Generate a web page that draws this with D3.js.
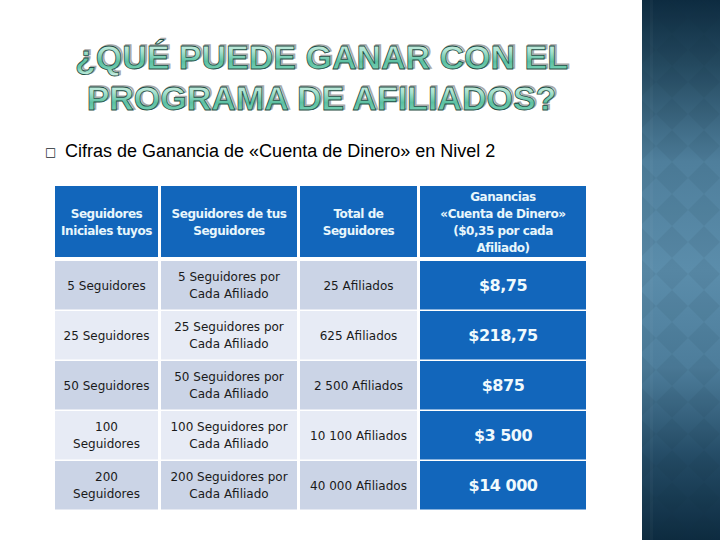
<!DOCTYPE html>
<html>
<head>
<meta charset="utf-8">
<script src="https://cdn.jsdelivr.net/npm/d3@7"></script>
<style>
html, body { margin: 0; padding: 0; background: #fff; }
svg { display: block; }
</style>
</head>
<body>
<div id="chart"></div>
<script>
var titleLines = ["¿QUÉ PUEDE GANAR CON EL", "PROGRAMA DE AFILIADOS?"];
var subtitle = "Cifras de Ganancia de «Cuenta de Dinero» en Nivel 2";

var headers = [
  ["Seguidores", "Iniciales tuyos"],
  ["Seguidores de tus", "Seguidores"],
  ["Total de", "Seguidores"],
  ["Ganancias", "«Cuenta de Dinero»", "($0,35 por cada", "Afiliado)"]
];
var initialFollowers = [["5 Seguidores"], ["25 Seguidores"], ["50 Seguidores"], ["100", "Seguidores"], ["200", "Seguidores"]];
var followersOfFollowers = [
  ["5 Seguidores por", "Cada Afiliado"],
  ["25 Seguidores por", "Cada Afiliado"],
  ["50 Seguidores por", "Cada Afiliado"],
  ["100 Seguidores por", "Cada Afiliado"],
  ["200 Seguidores por", "Cada Afiliado"]
];
var totalAffiliates = ["25 Afiliados", "625 Afiliados", "2 500 Afiliados", "10 100 Afiliados", "40 000 Afiliados"];
var earnings = ["$8,75", "$218,75", "$875", "$3 500", "$14 000"];

var width = 720, height = 540;
var colEdges = [55, 161, 300, 420, 589];
var rowTop = 261, rowStep = 50, rowH = 48.5;

var svg = d3.select("#chart").append("svg")
  .attr("width", width)
  .attr("height", height);
var defs = svg.append("defs");

// side panel
var panelGrad = defs.append("linearGradient").attr("id", "panel")
  .attr("x1", 0).attr("y1", 0).attr("x2", 0).attr("y2", 1);
[[0, "#0d2b40"], [0.12, "#24495f"], [0.3, "#4f7f9c"], [0.5, "#5b8dab"], [0.68, "#4d7d9b"], [0.85, "#234a64"], [1, "#0d2b40"]]
  .forEach(function(s) { panelGrad.append("stop").attr("offset", s[0]).attr("stop-color", s[1]); });

var diamonds = defs.append("pattern").attr("id", "diamonds")
  .attr("patternUnits", "userSpaceOnUse")
  .attr("x", 656).attr("y", 2)
  .attr("width", 32).attr("height", 32);
diamonds.append("path").attr("d", "M16 0L32 16L16 32L0 16Z").attr("fill", "#0d2b40").attr("fill-opacity", 0.07);

svg.append("rect").attr("x", 642).attr("y", 0).attr("width", 78).attr("height", height).attr("fill", "url(#panel)");
svg.append("rect").attr("x", 642).attr("y", 0).attr("width", 78).attr("height", height).attr("fill", "url(#diamonds)");
svg.append("rect").attr("x", 650).attr("y", 0).attr("width", 3).attr("height", height).attr("fill", "#fff").attr("fill-opacity", 0.03);

// title
var titleGrad = defs.append("linearGradient").attr("id", "titleFill")
  .attr("x1", 0).attr("y1", 0).attr("x2", 0).attr("y2", 1);
[[0, "#e4f7f0"], [0.35, "#a8e2cf"], [0.62, "#5cc0a2"], [0.78, "#6fcbae"], [1, "#d5f3e8"]]
  .forEach(function(s) { titleGrad.append("stop").attr("offset", s[0]).attr("stop-color", s[1]); });

function drawTitle(line, y) {
  var g = svg.append("g").attr("font-family", "Liberation Sans").attr("font-weight", "bold")
    .attr("font-size", 34).attr("text-anchor", "middle");
  g.append("text").attr("x", 323).attr("y", y - 1.5).text(line)
    .attr("fill", "none").attr("stroke", "#a8a8a8").attr("stroke-width", 1.6);
  g.append("text").attr("x", 321.5).attr("y", y).text(line)
    .attr("fill", "url(#titleFill)").attr("stroke", "#1f4f45").attr("stroke-width", 0.8);
}
drawTitle(titleLines[0], 69);
drawTitle(titleLines[1], 110);

// bullet + subtitle
svg.append("text").attr("x", 45).attr("y", 156).attr("font-family", "DejaVu Sans").attr("font-size", 12).attr("fill", "#1a2a30").text("□");
svg.append("text").attr("x", 65).attr("y", 157).attr("font-family", "Liberation Sans").attr("font-size", 18).attr("fill", "#000").text(subtitle);

// table
var colors = { head: "#1266bb", odd: "#cbd4e6", even: "#e7ebf5" };

function cellText(x, cy, lines, opts) {
  var lh = opts.lh || 17;
  var t = svg.append("text").attr("text-anchor", "middle")
    .attr("font-family", "DejaVu Sans")
    .attr("font-size", opts.size)
    .attr("font-weight", opts.weight || "normal")
    .attr("letter-spacing", opts.spacing || 0)
    .attr("fill", opts.fill);
  lines.forEach(function(l, i) {
    t.append("tspan").attr("x", x)
      .attr("y", cy + (i - (lines.length - 1) / 2) * lh + opts.size * 0.36)
      .text(l);
  });
}

var columns = d3.range(4);
var colMid = function(c) { return (colEdges[c] + colEdges[c + 1] - 3) / 2; };

columns.forEach(function(c) {
  svg.append("rect").attr("x", colEdges[c]).attr("y", 186)
    .attr("width", colEdges[c + 1] - colEdges[c] - 3).attr("height", 71)
    .attr("fill", colors.head);
  cellText(colMid(c), 222, headers[c], { size: 12, weight: "bold", spacing: -0.45, fill: "#e8f6fb" });
});

d3.range(5).forEach(function(r) {
  var y = rowTop + r * rowStep;
  var rows = [initialFollowers[r], followersOfFollowers[r], [totalAffiliates[r]], [earnings[r]]];
  columns.forEach(function(c) {
    svg.append("rect").attr("x", colEdges[c]).attr("y", y)
      .attr("width", colEdges[c + 1] - colEdges[c] - 3).attr("height", rowH)
      .attr("fill", c === 3 ? colors.head : (r % 2 === 0 ? colors.odd : colors.even));
    if (c === 3) cellText(colMid(c), y + rowH / 2, rows[c], { size: 16, weight: "bold", spacing: -0.5, fill: "#f0fafd" });
    else cellText(colMid(c), y + rowH / 2, rows[c], { size: 12, fill: "#1a1a1a" });
  });
});
</script>
</body>
</html>
